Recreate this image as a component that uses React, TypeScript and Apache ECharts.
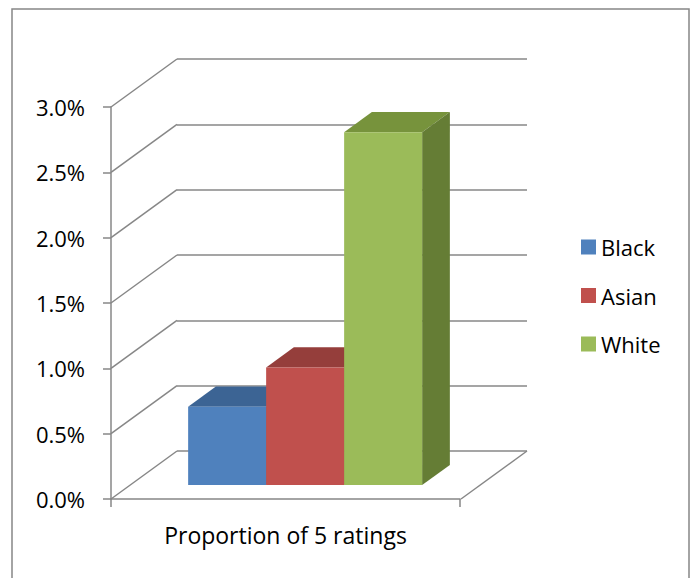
import React, { useEffect, useRef } from "react";
import * as echarts from "echarts";

const categories = ["Proportion of 5 ratings"];
const seriesNames = ["Black", "Asian", "White"];
const seriesValues = [0.006, 0.009, 0.027];
const yTicks = [0, 0.005, 0.01, 0.015, 0.02, 0.025, 0.03];

const frontColors = ["#4F81BD", "#C0504D", "#9BBB59"];
const topColors = ["#3C6494", "#953E3B", "#77933C"];
const sideColors = ["#385D8A", "#8C3936", "#657D35"];
const GRID = "#878787";
const FONT = "Open Sans";

const DX = 66;
const DY = 48;
const FRONT_F = 0.71;
const BACK_F = 0.29;
const BAR_FRAC = 78 / 350;

function makeBarRender(i: number) {
  return (params: any, api: any) => {
    const v = api.value(1);
    const top = api.coord([api.value(0), v]);
    const base = api.coord([api.value(0), 0]);
    const catW = api.size([1, 0])[0];
    const bw = catW * BAR_FRAC;
    const left = top[0] + (i - 1.5) * bw;
    const fx = -DX * FRONT_F, fy = DY * FRONT_F;
    const bx = -DX * BACK_F, by = DY * BACK_F;
    const x0 = left + fx, x1 = left + bw + fx;
    const yt = top[1] + fy, yb = base[1] + fy;
    const X0 = left + bx, X1 = left + bw + bx;
    const YT = top[1] + by, YB = base[1] + by;
    return {
      type: "group",
      children: [
        { type: "polygon", shape: { points: [[x0, yt], [X0, YT], [X1, YT], [x1, yt]] }, style: { fill: topColors[i] } },
        { type: "polygon", shape: { points: [[x1, yt], [X1, YT], [X1, YB], [x1, yb]] }, style: { fill: sideColors[i] } },
        { type: "rect", shape: { x: x0, y: yt, width: bw, height: yb - yt }, style: { fill: frontColors[i] } },
      ],
    };
  };
}

function wallRender(params: any, api: any) {
  const t = api.value(1);
  const p = api.coord([0, t]);
  const catW = api.size([1, 0])[0];
  const left = p[0] - catW / 2;
  const right = p[0] + catW / 2;
  const children: any[] = [
    { type: "line", shape: { x1: left, y1: p[1], x2: left - DX, y2: p[1] + DY }, style: { stroke: GRID, lineWidth: 1.5 } },
  ];
  if (t === 0) {
    children.push({ type: "line", shape: { x1: right, y1: p[1], x2: right - DX, y2: p[1] + DY }, style: { stroke: GRID, lineWidth: 1.5 } });
  }
  return { type: "group", children };
}

export default function App() {
  const ref = useRef<HTMLDivElement>(null);
  useEffect(() => {
    if (!ref.current) return;
    const chart = echarts.init(ref.current, undefined, { renderer: "svg" });
    const pct = (v: number) => (v * 100).toFixed(1) + "%";
    chart.setOption({
      animation: false,
      backgroundColor: "#ffffff",
      textStyle: { fontFamily: FONT },
      graphic: [
        { type: "rect", shape: { x: 12, y: 9, width: 677, height: 600 }, style: { fill: "none", stroke: GRID, lineWidth: 1.5 }, z: -10 },
      ],
      legend: {
        orient: "vertical",
        left: 576,
        top: 231,
        itemWidth: 15,
        itemHeight: 15,
        itemGap: 26.5,
        icon: "rect",
        data: seriesNames,
        textStyle: { fontFamily: FONT, fontSize: 22, color: "#000" },
      },
      grid: [
        { left: 177, top: 59, width: 350, height: 392 },
        { left: 111, top: 107, width: 349, height: 392 },
      ],
      xAxis: [
        { type: "category", gridIndex: 0, data: categories, show: false },
        {
          type: "category",
          gridIndex: 1,
          data: categories,
          axisLine: { show: true, lineStyle: { color: GRID, width: 1.5 } },
          axisTick: { show: true, length: 8, lineStyle: { color: GRID, width: 1.5 } },
          axisLabel: { fontFamily: FONT, fontSize: 23, color: "#000", margin: 24 },
        },
      ],
      yAxis: [
        {
          type: "value",
          gridIndex: 0,
          min: 0,
          max: 0.03,
          interval: 0.005,
          axisLine: { show: false },
          axisTick: { show: false },
          axisLabel: { show: false },
          splitLine: { show: true, lineStyle: { color: GRID, width: 1.5 } },
        },
        {
          type: "value",
          gridIndex: 1,
          min: 0,
          max: 0.03,
          interval: 0.005,
          axisLine: { show: true, lineStyle: { color: GRID, width: 1.5 } },
          axisTick: { show: true, length: 8, lineStyle: { color: GRID, width: 1.5 } },
          splitLine: { show: false },
          axisLabel: { fontFamily: FONT, fontSize: 22, color: "#000", margin: 26, formatter: pct },
        },
      ],
      series: [
        {
          type: "custom",
          name: "_wall",
          xAxisIndex: 0,
          yAxisIndex: 0,
          silent: true,
          clip: false,
          z: 1,
          renderItem: wallRender,
          data: yTicks.map((t) => [0, t]),
        },
        ...seriesNames.map((name, i) => ({
          type: "custom",
          name,
          xAxisIndex: 0,
          yAxisIndex: 0,
          clip: false,
          z: 2 + i,
          itemStyle: { color: frontColors[i] },
          renderItem: makeBarRender(i),
          data: [[0, seriesValues[i]]],
        })),
      ],
    });
    return () => chart.dispose();
  }, []);
  return (
    <div
      ref={ref}
      style={{ position: "fixed", left: 0, top: 0, width: 690, height: 578, background: "#fff" }}
    />
  );
}
